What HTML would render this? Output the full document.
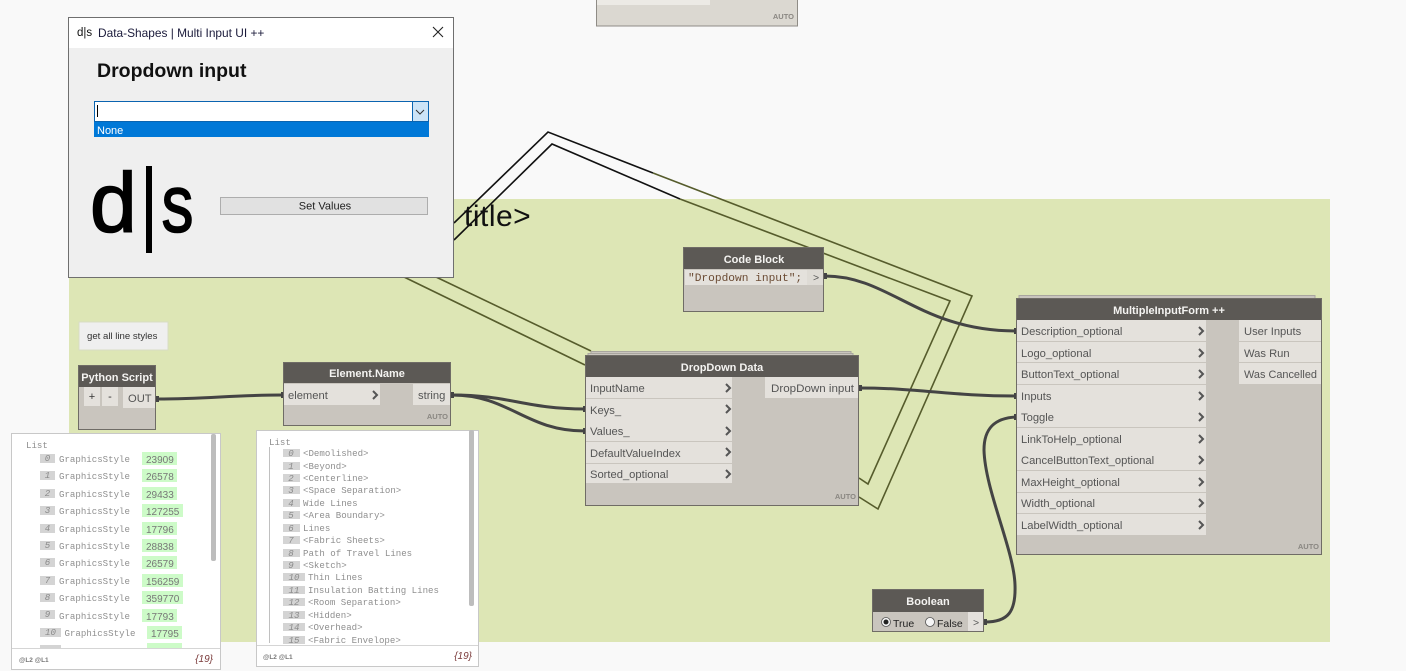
<!DOCTYPE html>
<html><head><meta charset="utf-8"><style>
html,body{margin:0;padding:0;background:#f9f9f9;overflow:hidden}
svg{display:block}
text{font-family:"Liberation Sans",sans-serif}
.h{font-weight:bold;font-size:11px;fill:#f4f3f1;text-anchor:middle}
.p{font-size:11.2px;fill:#555}
.a{font-size:7.5px;font-weight:bold;fill:#8a8782;text-anchor:end}
.m{font-family:"Liberation Mono",monospace;font-size:9.1px;fill:#8f8f8f}
.i{font-family:"Liberation Mono",monospace;font-size:9.1px;fill:#8a8a8a;font-style:italic;text-anchor:middle}
.n{font-size:10px;fill:#777}
.ib{fill:#d4d4d4}.g{fill:#cdfbc8}
.b{fill:#c9c5be;stroke:#6f6c66;stroke-width:1}
.hd{fill:#5c5955}.pt{fill:#e4e1dc}
.sep{stroke:#c9c5be;stroke-width:1}
.c{fill:none;stroke:#555;stroke-width:2}
.w{fill:none;stroke:#444;stroke-width:3}
.o{fill:none;stroke:#565c2c;stroke-width:1.6}
.k{fill:none;stroke:#111;stroke-width:1.6}
</style></head><body>
<svg width="1406" height="671" viewBox="0 0 1406 671" xmlns="http://www.w3.org/2000/svg">
<rect width="1406" height="671" fill="#f9f9f9"/>
<rect x="69" y="199" width="1261" height="443" fill="#dde6b5"/>

<!-- top partial node -->
<rect x="596.5" y="-10" width="201" height="36" fill="#dbd8d1" stroke="#8f8c86"/>
<rect x="597" y="0" width="113" height="5" fill="#eceae5"/>
<text x="794" y="19" class="a" style="fill:#8a8782">AUTO</text>

<!-- group title -->
<text x="464" y="226" fill="#111" style="font-size:30px;letter-spacing:.5px">title&gt;</text>

<!-- stray polylines -->
<polyline class="k" points="454,223 548,132 653,173"/>
<polyline class="k" points="454,240 552,144 680,199"/>
<polyline class="o" points="653,173 972,296 878,509 859,497"/>
<polyline class="o" points="680,199 950,301 868,484 859,478"/>
<line class="o" x1="404" y1="277" x2="585" y2="365"/>
<line class="o" x1="436" y1="277" x2="591" y2="351"/>

<!-- wires -->
<path class="w" d="M157,399 C210,399 230,395 283,395"/>
<path class="w" d="M452,395 C510,395 525,409 585,409"/>
<path class="w" d="M452,395 C510,395 525,431 585,431"/>
<path class="w" d="M825,276 C890,276 920,331 1016,331"/>
<path class="w" d="M859,388 C920,388 950,396 1016,396"/>
<path class="w" d="M985,622 C1008,622 1016,612 1015,585 C1014,550 985,490 984,450 C984,428 995,418 1016,417"/>
<g fill="#444">
<rect x="156" y="396" width="3" height="6"/><rect x="281" y="392" width="3" height="6"/>
<rect x="451" y="392" width="3" height="6"/><rect x="583" y="406" width="3" height="6"/>
<rect x="583" y="428" width="3" height="6"/><rect x="824" y="273" width="3" height="6"/>
<rect x="859" y="385" width="3" height="6"/><rect x="1014" y="328" width="3" height="6"/>
<rect x="1014" y="393" width="3" height="6"/><rect x="1014" y="414" width="3" height="6"/>
<rect x="984" y="619" width="3" height="6"/>
</g>

<!-- note -->
<rect x="79" y="322" width="89" height="28" fill="#efefef" stroke="#d8dcc4" stroke-width="1"/>
<text x="87" y="339" fill="#333" style="font-size:9.6px">get all line styles</text>

<!-- Python Script -->
<rect class="b" x="78.5" y="365.5" width="77" height="64"/>
<rect class="hd" x="79" y="366" width="76" height="21"/>
<text class="h" x="117" y="381">Python Script</text>
<rect class="pt" x="84" y="387" width="16" height="19"/>
<rect class="pt" x="102" y="387" width="16" height="19"/>
<rect class="pt" x="123" y="387" width="32" height="21"/>
<text x="92" y="400" fill="#333" text-anchor="middle" style="font-size:11px">+</text>
<text x="110" y="400" fill="#333" text-anchor="middle" style="font-size:11px">-</text>
<text class="p" x="128" y="402">OUT</text>

<!-- Element.Name -->
<rect class="b" x="283.5" y="362.5" width="167" height="63"/>
<rect class="hd" x="284" y="363" width="166" height="20"/>
<text class="h" x="367" y="377">Element.Name</text>
<rect class="pt" x="284" y="384" width="96" height="21"/>
<rect class="pt" x="413" y="384" width="37" height="21"/>
<text class="p" x="288" y="399">element</text>
<text class="p" x="418" y="399">string</text>
<polyline class="c" points="373,391 377,395 373,399"/>
<text class="a" x="448" y="419">AUTO</text>

<!-- Code Block -->
<rect class="b" x="683.5" y="247.5" width="140" height="64"/>
<rect class="hd" x="684" y="248" width="139" height="21"/>
<text class="h" x="754" y="263">Code Block</text>
<rect class="pt" x="685" y="270" width="122" height="15"/>
<rect fill="#dedbd5" x="807" y="270" width="16" height="15"/>
<text x="688" y="281" style="font-family:'Liberation Mono',monospace;font-size:11.2px" fill="#6b4b34">"Dropdown input";</text>
<text x="813" y="281" style="font-size:10.5px" fill="#555">&gt;</text>

<!-- DropDown Data -->
<rect x="591" y="351.5" width="260" height="6" fill="#c9c5be" stroke="#a9a69f"/>
<rect x="588" y="353.5" width="265" height="6" fill="#c9c5be" stroke="#a9a69f"/>
<rect class="b" x="585.5" y="355.5" width="273" height="150"/>
<rect class="hd" x="586" y="356" width="272" height="21"/>
<text class="h" x="722" y="371">DropDown Data</text>
<rect class="pt" x="586" y="377" width="146" height="106"/>
<line class="sep" x1="586" y1="398.5" x2="732" y2="398.5"/>
<line class="sep" x1="586" y1="441.5" x2="732" y2="441.5"/>
<line class="sep" x1="586" y1="463.5" x2="732" y2="463.5"/>
<rect class="pt" x="765" y="377" width="93" height="21"/>
<text class="p" x="590" y="392">InputName</text>
<text class="p" x="590" y="414">Keys_</text>
<text class="p" x="590" y="435">Values_</text>
<text class="p" x="590" y="457">DefaultValueIndex</text>
<text class="p" x="590" y="478">Sorted_optional</text>
<text class="p" x="771" y="392" textLength="83" lengthAdjust="spacingAndGlyphs">DropDown input</text>
<polyline class="c" points="726,384 730,388 726,392"/>
<polyline class="c" points="726,405 730,409 726,413"/>
<polyline class="c" points="726,427 730,431 726,435"/>
<polyline class="c" points="726,448 730,452 726,456"/>
<polyline class="c" points="726,470 730,474 726,478"/>
<text class="a" x="856" y="499">AUTO</text>

<!-- MultipleInputForm -->
<rect x="1019" y="295.5" width="296" height="6" fill="#c9c5be" stroke="#a9a69f"/>
<rect class="b" x="1016.5" y="298.5" width="305" height="256"/>
<rect class="hd" x="1017" y="299" width="304" height="21"/>
<text class="h" x="1169" y="314">MultipleInputForm ++</text>
<rect class="pt" x="1017" y="320" width="189" height="215"/>
<g class="sep">
<line x1="1017" y1="341.5" x2="1206" y2="341.5"/>
<line x1="1017" y1="362.5" x2="1206" y2="362.5"/>
<line x1="1017" y1="384.5" x2="1206" y2="384.5"/>
<line x1="1017" y1="427.5" x2="1206" y2="427.5"/>
<line x1="1017" y1="470.5" x2="1206" y2="470.5"/>
<line x1="1017" y1="492.5" x2="1206" y2="492.5"/>
<line x1="1017" y1="513.5" x2="1206" y2="513.5"/>
</g>
<rect class="pt" x="1239" y="320" width="82" height="64"/>
<line class="sep" x1="1239" y1="341.5" x2="1321" y2="341.5"/>
<line class="sep" x1="1239" y1="362.5" x2="1321" y2="362.5"/>
<text class="p" x="1021" y="335">Description_optional</text>
<text class="p" x="1021" y="357">Logo_optional</text>
<text class="p" x="1021" y="378">ButtonText_optional</text>
<text class="p" x="1021" y="400">Inputs</text>
<text class="p" x="1021" y="421">Toggle</text>
<text class="p" x="1021" y="443">LinkToHelp_optional</text>
<text class="p" x="1021" y="464">CancelButtonText_optional</text>
<text class="p" x="1021" y="486">MaxHeight_optional</text>
<text class="p" x="1021" y="507">Width_optional</text>
<text class="p" x="1021" y="529">LabelWidth_optional</text>
<text class="p" x="1244" y="335">User Inputs</text>
<text class="p" x="1244" y="357">Was Run</text>
<text class="p" x="1244" y="378" textLength="73" lengthAdjust="spacingAndGlyphs">Was Cancelled</text>
<polyline class="c" points="1199,327 1203,331 1199,335"/>
<polyline class="c" points="1199,349 1203,353 1199,357"/>
<polyline class="c" points="1199,370 1203,374 1199,378"/>
<polyline class="c" points="1199,392 1203,396 1199,400"/>
<polyline class="c" points="1199,413 1203,417 1199,421"/>
<polyline class="c" points="1199,435 1203,439 1199,443"/>
<polyline class="c" points="1199,456 1203,460 1199,464"/>
<polyline class="c" points="1199,478 1203,482 1199,486"/>
<polyline class="c" points="1199,499 1203,503 1199,507"/>
<polyline class="c" points="1199,521 1203,525 1199,529"/>
<text class="a" x="1319" y="549">AUTO</text>

<!-- Boolean -->
<rect class="b" x="872.5" y="589.5" width="111" height="42"/>
<rect class="hd" x="873" y="590" width="110" height="22"/>
<text class="h" x="928" y="605">Boolean</text>
<rect class="pt" x="968" y="612" width="15" height="19"/>
<text x="973" y="626" style="font-size:10.5px" fill="#555">&gt;</text>
<circle cx="886" cy="622" r="4.5" fill="#f2f2f2" stroke="#555" stroke-width="0.8"/>
<circle cx="886" cy="622" r="2.5" fill="#222"/>
<text x="893" y="627" style="font-size:10.5px" fill="#222">True</text>
<circle cx="930" cy="622" r="4.5" fill="#f6f6f6" stroke="#555" stroke-width="0.8"/>
<text x="937" y="627" style="font-size:10.5px" fill="#222">False</text>

<!-- left preview -->
<rect x="11.5" y="433.5" width="209" height="236" fill="#fff" stroke="#c8c8c8"/>
<line x1="12" y1="648.5" x2="220" y2="648.5" stroke="#d5d5d5"/>
<rect x="211" y="434" width="5" height="127" rx="2" fill="#bdbdbd"/>
<text class="m" x="26" y="448">List</text>
<g>
<rect class="ib" x="40" y="454" width="15" height="9"/><text class="i" x="47.5" y="461">0</text><text class="m" x="59" y="462">GraphicsStyle</text><rect class="g" x="142" y="452" width="35" height="13"/><text class="n" x="146" y="463">23909</text>
<rect class="ib" x="40" y="471" width="15" height="9"/><text class="i" x="47.5" y="478">1</text><text class="m" x="59" y="479">GraphicsStyle</text><rect class="g" x="142" y="469" width="35" height="13"/><text class="n" x="146" y="480">26578</text>
<rect class="ib" x="40" y="489" width="15" height="9"/><text class="i" x="47.5" y="496">2</text><text class="m" x="59" y="497">GraphicsStyle</text><rect class="g" x="142" y="487" width="35" height="13"/><text class="n" x="146" y="498">29433</text>
<rect class="ib" x="40" y="506" width="15" height="9"/><text class="i" x="47.5" y="513">3</text><text class="m" x="59" y="514">GraphicsStyle</text><rect class="g" x="142" y="504" width="41" height="13"/><text class="n" x="146" y="515">127255</text>
<rect class="ib" x="40" y="524" width="15" height="9"/><text class="i" x="47.5" y="531">4</text><text class="m" x="59" y="532">GraphicsStyle</text><rect class="g" x="142" y="522" width="35" height="13"/><text class="n" x="146" y="533">17796</text>
<rect class="ib" x="40" y="541" width="15" height="9"/><text class="i" x="47.5" y="548">5</text><text class="m" x="59" y="549">GraphicsStyle</text><rect class="g" x="142" y="539" width="35" height="13"/><text class="n" x="146" y="550">28838</text>
<rect class="ib" x="40" y="558" width="15" height="9"/><text class="i" x="47.5" y="565">6</text><text class="m" x="59" y="566">GraphicsStyle</text><rect class="g" x="142" y="556" width="35" height="13"/><text class="n" x="146" y="567">26579</text>
<rect class="ib" x="40" y="576" width="15" height="9"/><text class="i" x="47.5" y="583">7</text><text class="m" x="59" y="584">GraphicsStyle</text><rect class="g" x="142" y="574" width="41" height="13"/><text class="n" x="146" y="585">156259</text>
<rect class="ib" x="40" y="593" width="15" height="9"/><text class="i" x="47.5" y="600">8</text><text class="m" x="59" y="601">GraphicsStyle</text><rect class="g" x="142" y="591" width="41" height="13"/><text class="n" x="146" y="602">359770</text>
<rect class="ib" x="40" y="610" width="15" height="9"/><text class="i" x="47.5" y="617">9</text><text class="m" x="59" y="619">GraphicsStyle</text><rect class="g" x="142" y="609" width="35" height="13"/><text class="n" x="146" y="620">17793</text>
<rect class="ib" x="40" y="628" width="21" height="9"/><text class="i" x="50.5" y="635">10</text><text class="m" x="64.500" y="636">GraphicsStyle</text><rect class="g" x="147" y="626" width="35" height="13"/><text class="n" x="151" y="637">17795</text>
<rect class="ib" x="40" y="645" width="21" height="3"/><rect class="g" x="147" y="643" width="35" height="5"/>
</g>
<text x="19" y="662" style="font-size:6.5px;font-weight:bold" fill="#777">@L2 @L1</text>
<text x="213" y="662" style="font-size:10px;font-style:italic" fill="#7a3a3a" text-anchor="end">{19}</text>

<!-- right preview -->
<rect x="256.5" y="430.5" width="222" height="236" fill="#fff" stroke="#c8c8c8"/>
<line x1="257" y1="645.500" x2="478" y2="645.500" stroke="#d5d5d5"/>
<rect x="469" y="430" width="5" height="176" rx="2" fill="#bdbdbd"/>
<text class="m" x="269" y="445">List</text>
<line x1="269.500" y1="447" x2="269.500" y2="643" stroke="#c0c0c0"/>
<g>
<rect class="ib" x="283" y="449" width="17" height="8"/><text class="i" x="291" y="456">0</text><text class="m" x="303" y="456">&lt;Demolished&gt;</text>
<rect class="ib" x="283" y="462" width="17" height="8"/><text class="i" x="291" y="469">1</text><text class="m" x="303" y="469">&lt;Beyond&gt;</text>
<rect class="ib" x="283" y="474" width="17" height="8"/><text class="i" x="291" y="481">2</text><text class="m" x="303" y="481">&lt;Centerline&gt;</text>
<rect class="ib" x="283" y="486" width="17" height="8"/><text class="i" x="291" y="493">3</text><text class="m" x="303" y="493">&lt;Space Separation&gt;</text>
<rect class="ib" x="283" y="499" width="17" height="8"/><text class="i" x="291" y="506">4</text><text class="m" x="303" y="506">Wide Lines</text>
<rect class="ib" x="283" y="511" width="17" height="8"/><text class="i" x="291" y="518">5</text><text class="m" x="303" y="518">&lt;Area Boundary&gt;</text>
<rect class="ib" x="283" y="524" width="17" height="8"/><text class="i" x="291" y="531">6</text><text class="m" x="303" y="531">Lines</text>
<rect class="ib" x="283" y="536" width="17" height="8"/><text class="i" x="291" y="543">7</text><text class="m" x="303" y="543">&lt;Fabric Sheets&gt;</text>
<rect class="ib" x="283" y="549" width="17" height="8"/><text class="i" x="291" y="556">8</text><text class="m" x="303" y="556">Path of Travel Lines</text>
<rect class="ib" x="283" y="561" width="17" height="8"/><text class="i" x="291" y="568">9</text><text class="m" x="303" y="568">&lt;Sketch&gt;</text>
<rect class="ib" x="283" y="573" width="22" height="8"/><text class="i" x="294" y="580">10</text><text class="m" x="308" y="580">Thin Lines</text>
<rect class="ib" x="283" y="586" width="22" height="8"/><text class="i" x="294" y="593">11</text><text class="m" x="308" y="593">Insulation Batting Lines</text>
<rect class="ib" x="283" y="598" width="22" height="8"/><text class="i" x="294" y="605">12</text><text class="m" x="308" y="605">&lt;Room Separation&gt;</text>
<rect class="ib" x="283" y="611" width="22" height="8"/><text class="i" x="294" y="618">13</text><text class="m" x="308" y="618">&lt;Hidden&gt;</text>
<rect class="ib" x="283" y="623" width="22" height="8"/><text class="i" x="294" y="630">14</text><text class="m" x="308" y="630">&lt;Overhead&gt;</text>
<rect class="ib" x="283" y="636" width="22" height="8"/><text class="i" x="294" y="643">15</text><text class="m" x="308" y="643">&lt;Fabric Envelope&gt;</text>
</g>
<text x="263" y="659" style="font-size:6.5px;font-weight:bold" fill="#777">@L2 @L1</text>
<text x="472" y="659" style="font-size:10px;font-style:italic" fill="#7a3a3a" text-anchor="end">{19}</text>

<!-- dialog -->
<rect x="68.500" y="17.500" width="385" height="260" fill="#efefef" stroke="#6f6f6f"/>
<rect x="69" y="18" width="384" height="30" fill="#fff"/>
<text x="77" y="36" style="font-size:11.5px" fill="#111">d|s</text>
<text x="98" y="37" style="font-size:11.9px" fill="#1a1a3a">Data-Shapes | Multi Input UI ++</text>
<path d="M433,27 L443,37 M443,27 L433,37" stroke="#222" stroke-width="1.1" fill="none"/>
<text x="97" y="77" style="font-size:19.5px;font-weight:bold" fill="#111">Dropdown input</text>
<rect x="94.500" y="101.500" width="334" height="20" fill="#fff" stroke="#0a64b0"/>
<rect x="412.500" y="101.500" width="16" height="20" fill="#cce4f7" stroke="#0a64b0"/>
<polyline points="416,110 420,114 424,110" fill="none" stroke="#333" stroke-width="1"/>
<line x1="97.500" y1="105" x2="97.500" y2="117" stroke="#000"/>
<rect x="94" y="122" width="335" height="15" fill="#0078d7"/>
<text x="97" y="134" style="font-size:11px" fill="#fff">None</text>
<text x="90" y="231.500" style="font-size:84px" fill="#000" stroke="#000" stroke-width="1.6">d</text>
<rect x="146" y="166" width="6" height="87" fill="#000"/>
<text transform="translate(161.500,231.500) scale(.78,1)" x="0" y="0" style="font-size:82px" fill="#000" stroke="#000" stroke-width="1.6">s</text>
<rect x="220.500" y="197.500" width="207" height="17" fill="#e1e1e1" stroke="#adadad"/>
<text x="325" y="209.500" style="font-size:11px" fill="#222" text-anchor="middle">Set Values</text>
</svg>
</body></html>
